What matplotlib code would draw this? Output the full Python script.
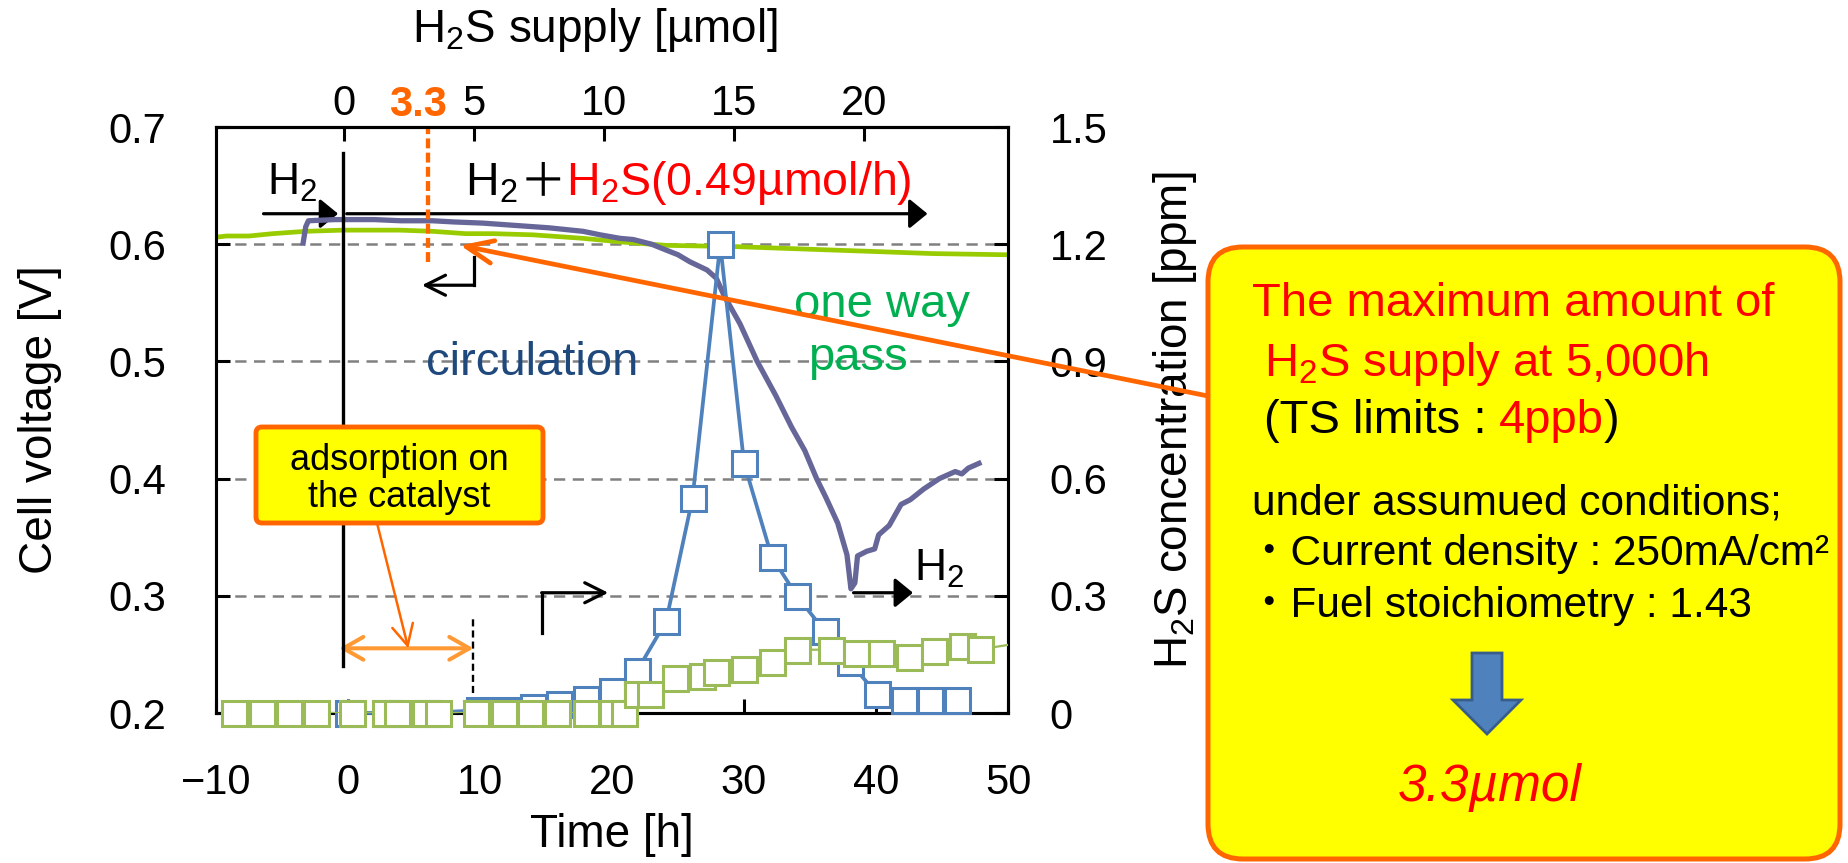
import matplotlib
matplotlib.use('Agg')
import matplotlib.pyplot as plt
from matplotlib.patches import FancyBboxPatch, FancyArrow, ConnectionPatch

plt.rcParams['font.family'] = ['Liberation Sans', 'Noto Sans CJK JP', 'DejaVu Sans']
plt.rcParams['mathtext.fontset'] = 'custom'
plt.rcParams['mathtext.rm'] = 'Liberation Sans'
plt.rcParams['mathtext.it'] = 'Liberation Sans:italic'
plt.rcParams['mathtext.bf'] = 'Liberation Sans:bold'

# cell voltage, circulation run
circ_time = [-3.4, -3.2, -3.0, -1.0, 2.0, 4.0, 6.4, 8.0, 10.2, 12.7,
             15.2, 17.8, 19.1, 20.6, 21.6, 23.0, 24.1, 25.0, 25.9, 27.2,
             27.9, 28.5, 29.0, 29.7, 31.0, 32.4, 33.6, 34.6, 35.5, 36.2,
             37.1, 37.8, 38.1, 38.4, 38.6, 39.3, 39.9, 40.2, 41.0, 41.9,
             42.6, 43.6, 44.8, 46.0, 46.5, 47.0, 47.8]
circ_volt = [0.601, 0.615, 0.620, 0.621, 0.621, 0.620, 0.620, 0.619, 0.618, 0.616,
             0.614, 0.611, 0.608, 0.605, 0.604, 0.600, 0.595, 0.591, 0.585, 0.578,
             0.571, 0.556, 0.546, 0.532, 0.500, 0.471, 0.444, 0.424, 0.400, 0.384,
             0.362, 0.335, 0.306, 0.311, 0.334, 0.338, 0.340, 0.352, 0.360, 0.378,
             0.382, 0.391, 0.400, 0.406, 0.404, 0.409, 0.413]

# cell voltage, one way pass
oneway_time = [-10.0, -9.2, -7.5, -5.7, -3.2, -0.4, 3.9, 6.4, 8.9, 11.0,
               14.0, 17.8, 20.6, 24.1, 29.2, 34.2, 39.3, 44.3, 49.8, 50.0]
oneway_volt = [0.606, 0.607, 0.607, 0.609, 0.611, 0.612, 0.612, 0.611, 0.609, 0.609,
               0.608, 0.605, 0.602, 0.599, 0.598, 0.596, 0.594, 0.592, 0.591, 0.591]

# H2S concentration at the outlet [ppm]
circ_h2s_time = [0, 3, 6, 9.9, 12, 14, 16, 18, 20, 21.9, 24.1,
                 26.1, 28.2, 30.0, 32.1, 34.0, 36.1, 38.0, 40.1, 42.1, 44.1, 46.1]
circ_h2s_ppm = [0, 0, 0, 0.007, 0.007, 0.015, 0.024, 0.037, 0.057, 0.108, 0.235,
                0.55, 1.2, 0.64, 0.40, 0.30, 0.21, 0.13, 0.048, 0.033, 0.033, 0.033]
oneway_h2s_time = [-8.6, -6.5, -4.5, -2.4, 0.3, 2.8, 3.7, 5.8, 6.8, 9.7,
                   11.8, 13.8, 15.8, 18.0, 20.0, 20.9, 21.9, 22.9, 24.8, 26.8,
                   27.9, 30.0, 32.1, 34.0, 36.6, 38.5, 40.4, 42.5, 44.4, 46.5,
                   47.9, 52.0]
oneway_h2s_ppm = [0, 0, 0, 0, 0, 0, 0, 0, 0, 0,
                  0, 0, 0, 0, 0, 0, 0.049, 0.048, 0.089, 0.095,
                  0.105, 0.113, 0.13, 0.162, 0.162, 0.154, 0.154, 0.144, 0.158, 0.171,
                  0.163, 0.185]

time_ticks = [-10, 0, 10, 20, 30, 40, 50]
volt_ticks = [0.2, 0.3, 0.4, 0.5, 0.6, 0.7]
conc_ticks = [0, 0.3, 0.6, 0.9, 1.2, 1.5]
conc_labels = ['0', '0.3', '0.6', '0.9', '1.2', '1.5']
supply_ticks = [0, 5, 10, 15, 20]
supply_rate = 0.508   # top scale, umol per hour
supply_start = -0.3   # h, H2S feed switched on
limit_supply = 3.3    # umol

ORANGE = '#FF6600'
LIGHT_ORANGE = '#FF9933'
PURPLE = '#666699'
LIME = '#99CC00'
BLUE = '#4F81BD'
OLIVE = '#9BBB59'
RED = '#FF0000'
YELLOW = '#FFFF00'

W, H = 1849, 863
fig = plt.figure(figsize=(W / 100, H / 100), dpi=100)
inch = fig.dpi_scale_trans
ax = fig.add_axes([216 / W, 1 - 713 / H, 792 / W, 586 / H])
ax2 = ax.twinx()
renderer = fig.canvas.get_renderer()


def px(x, y):
    # picture pixel (origin top-left) -> inches for fig.dpi_scale_trans
    return x / 100, (H - y) / 100


# voltage traces
ax.plot(oneway_time, oneway_volt, color=LIME, lw=3.4, zorder=3)
ax.plot(circ_time, circ_volt, color=PURPLE, lw=3.8, zorder=4)

# concentration markers
ax2.plot(circ_h2s_time, circ_h2s_ppm, color=BLUE, lw=2.7, marker='s', ms=18,
         mfc='white', mec=BLUE, mew=2.2, clip_on=False, zorder=3)
ax2.plot(oneway_h2s_time, oneway_h2s_ppm, color=OLIVE, lw=1.6, zorder=4)
ow_t = [t for t in oneway_h2s_time if t <= 50]
ow_c = [c for t, c in zip(oneway_h2s_time, oneway_h2s_ppm) if t <= 50]
ax2.plot(ow_t, ow_c, ls='none', marker='s', ms=18, mfc='white', mec=OLIVE,
         mew=2.2, clip_on=False, zorder=5)

# axes
ax.set_xlim(-10, 50)
ax.set_ylim(0.2, 0.7)
ax.set_xticks(time_ticks)
ax.set_yticks(volt_ticks)
ax.set_yticklabels([f'{v:.1f}' for v in volt_ticks])
ax2.set_ylim(0, 1.5)
ax2.set_yticks(conc_ticks)
ax2.set_yticklabels(conc_labels)

ax.tick_params(direction='in', length=10, width=2.2, labelsize=30)
ax.tick_params(axis='y', pad=36)
ax.tick_params(axis='x', pad=36)
ax2.tick_params(axis='y', direction='in', length=10, width=2.2, labelsize=30, pad=30)
for s in list(ax.spines.values()) + list(ax2.spines.values()):
    s.set_linewidth(2.2)
ax.grid(axis='y', color='#808080', lw=1.8, ls=(0, (4.5, 3)))
ax.set_axisbelow(True)

sec = ax.secondary_xaxis('top', functions=(lambda t: (t - supply_start) * supply_rate,
                                            lambda s: s / supply_rate + supply_start))
sec.set_xticks(supply_ticks)
sec.tick_params(direction='in', length=10, width=2.2, labelsize=30, pad=2)
for s in sec.spines.values():
    s.set_linewidth(2.2)

ax.set_xlabel('Time [h]', fontsize=33, va='center')
ax.xaxis.set_label_coords(0.5, (713 - 835) / 586)
ax.set_ylabel('Cell voltage [V]', fontsize=33, va='center')
ax.yaxis.set_label_coords((40 - 216) / 792, 0.5)
ax2.set_ylabel('H$_2$S concentration [ppm]', fontsize=33, va='center')
ax2.yaxis.set_label_coords((1175 - 216) / 792, 0.5)
sec.set_xlabel('H$_2$S supply [µmol]', fontsize=33, va='center')
sec.xaxis.set_label_coords(*px(595, 30), transform=inch)

# orange "3.3" on the supply scale
t_limit = limit_supply / supply_rate + supply_start
ax.text(t_limit - 0.9, 1.004, '3.3', transform=ax.get_xaxis_transform(),
        ha='center', va='bottom', fontsize=30, fontweight='bold', color=ORANGE)
ax.plot([t_limit - 0.1, t_limit - 0.1], [0.585, 0.7], color=ORANGE, lw=3.1,
        ls=(0, (2.3, 1.0)), zorder=5)


def arrow(x0, y0, x1, y1, style, color='k', lw=2.3):
    ax.annotate('', xy=(x1, y1), xytext=(x0, y0), annotation_clip=False,
                arrowprops=dict(arrowstyle=style, color=color, lw=lw,
                                shrinkA=0, shrinkB=0, mutation_scale=20))


FILLED = '-|>,head_length=0.55,head_width=0.45'
OPEN = '->,head_length=0.72,head_width=0.36'

# feed switching marks
ax.plot([-0.35, -0.35], [0.24, 0.678], color='k', lw=2.4, zorder=5)
arrow(-6.4, 0.626, -0.75, 0.626, FILLED)
arrow(-0.1, 0.626, 43.9, 0.626, FILLED)
arrow(38.3, 0.3026, 42.8, 0.3026, FILLED)
ax.plot([9.55, 9.55], [0.589, 0.565], color='k', lw=2.3)
arrow(9.55, 0.565, 5.6, 0.565, OPEN)
ax.plot([14.67, 14.67], [0.268, 0.3026], color='k', lw=2.3)
arrow(14.67, 0.3026, 19.72, 0.3026, OPEN)
ax.plot([9.5, 9.5], [0.217, 0.282], color='k', lw=1.7, ls=(0, (3.0, 1.7)))
arrow(-0.66, 0.2552, 9.5, 0.2552, '<->,head_length=0.72,head_width=0.41',
      color=LIGHT_ORANGE, lw=2.9)
arrow(2.2, 0.362, 4.57, 0.2552, '->,head_length=0.75,head_width=0.38',
      color=ORANGE, lw=1.8)

ax.text(-6.1, 0.642, 'H$_2$', fontsize=32, va='baseline', ha='left')
ax.text(42.9, 0.313, 'H$_2$', fontsize=32, va='baseline', ha='left')
ax.text(5.9, 0.488, 'circulation', fontsize=34, color='#1F497D', va='baseline')
ax.text(33.8, 0.538, 'one way', fontsize=34, color='#00B050', va='baseline')
ax.text(34.85, 0.4927, 'pass', fontsize=34, color='#00B050', va='baseline')


def chain(x, y, pieces, size, **kw):
    # consecutive text pieces on one baseline, x/y in picture pixels
    cx = x
    for s, color, gap, extra in pieces:
        t = fig.text(*px(cx, y), s, transform=inch, fontsize=size, color=color,
                     va='baseline', ha='left', **extra, **kw)
        cx += t.get_window_extent(renderer).width + gap


chain(465, 195, [('H$_2$', 'k', 2, {}),
                 ('＋', 'k', 0, {'family': ['Noto Sans CJK JP']}),
                 ('H$_2$S(0.49µmol/h)', RED, 0, {})], 33.5)

# adsorption note
ax_box = FancyBboxPatch(px(256, 523), 2.87, 0.96, transform=inch,
                        boxstyle='round,pad=0,rounding_size=0.06',
                        fc=YELLOW, ec=ORANGE, lw=3.5, zorder=6)
fig.add_artist(ax_box)
fig.text(*px(399, 460), 'adsorption on', transform=inch, fontsize=26,
         ha='center', va='center', zorder=7)
fig.text(*px(399, 497), 'the catalyst', transform=inch, fontsize=26,
         ha='center', va='center', zorder=7)

# right hand summary box
note = FancyBboxPatch(px(1208, 859), 6.32, 6.12, transform=inch,
                      boxstyle='round,pad=0,rounding_size=0.35',
                      fc=YELLOW, ec=ORANGE, lw=3.6, zorder=6)
fig.add_artist(note)
con = ConnectionPatch(xyA=px(1208, 396), coordsA=inch, xyB=(8.5, 0.599), coordsB=ax.transData,
                      arrowstyle='->,head_length=0.97,head_width=0.41', mutation_scale=20,
                      color=ORANGE, lw=3.4, shrinkA=0, shrinkB=0, zorder=5)
fig.add_artist(con)

chain(1252, 316, [('The maximum amount of', RED, 0, {})], 34, zorder=7)
chain(1264, 376, [('H$_2$S supply at 5,000h', RED, 0, {})], 34, zorder=7)
chain(1264, 433, [('(TS limits :', 'k', 12, {}), ('4ppb', RED, 0, {}),
                  (')', 'k', 0, {})], 34, zorder=7)
chain(1252, 514, [('under assumued conditions;', 'k', 0, {})], 30.5, zorder=7)
chain(1248, 565, [('・Current density : 250mA/cm²', 'k', 0, {})], 30.5, zorder=7)
chain(1248, 617, [('・Fuel stoichiometry : 1.43', 'k', 0, {})], 30.5, zorder=7)

down = FancyArrow(*px(1487, 653), 0, -0.81, width=0.3, head_width=0.68,
                  head_length=0.34, length_includes_head=True, transform=inch,
                  fc=BLUE, ec='#385D8A', lw=2, zorder=7)
fig.add_artist(down)
fig.text(*px(1490, 787), '3.3µmol', transform=inch, fontsize=37, color=RED,
         style='italic', ha='center', va='center', zorder=7)

fig.savefig('out.png', dpi=100)
